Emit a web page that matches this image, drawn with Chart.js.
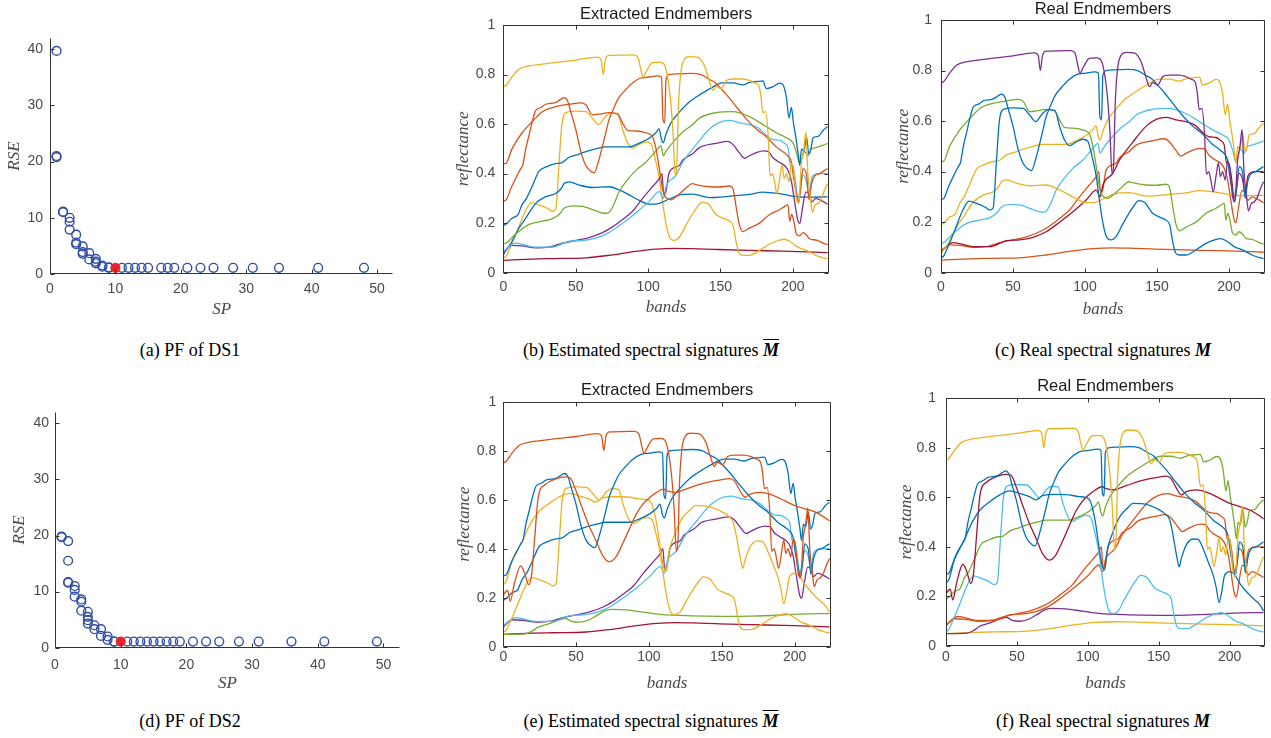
<!DOCTYPE html>
<html>
<head>
<meta charset="utf-8">
<script src="https://cdn.jsdelivr.net/npm/chart.js@4.4.0/dist/chart.umd.min.js"></script>
<style>
  html,body{margin:0;padding:0;background:#fff;}
  body{width:1271px;height:738px;position:relative;overflow:hidden;}
  canvas{position:absolute;}
  .cap{position:absolute;transform:translateX(-50%);white-space:nowrap;font-family:"Liberation Serif","Times New Roman",serif;font-size:18px;line-height:20px;color:#000;}
  .m{font-weight:bold;font-style:italic;}
  .ov{text-decoration:overline;}
</style>
</head>
<body>
<canvas id="pa"></canvas>
<canvas id="pb"></canvas>
<canvas id="pc"></canvas>
<canvas id="pd"></canvas>
<canvas id="pe"></canvas>
<canvas id="pf"></canvas>
<div class="cap" style="left:190px;top:340px">(a) PF of DS1</div>
<div class="cap" style="left:651px;top:340px">(b) Estimated spectral signatures <span class="m ov">M</span></div>
<div class="cap" style="left:1103px;top:340px">(c) Real spectral signatures <span class="m">M</span></div>
<div class="cap" style="left:190px;top:711px">(d) PF of DS2</div>
<div class="cap" style="left:651px;top:711px">(e) Estimated spectral signatures <span class="m ov">M</span></div>
<div class="cap" style="left:1103px;top:711px">(f) Real spectral signatures <span class="m">M</span></div>
<script>
// ---------------- data ----------------
const spTicks = [0, 10, 20, 30, 40, 50];
const rseTicks = [0, 10, 20, 30, 40];
const bandTicks = [0, 50, 100, 150, 200];
const reflTicks = [0, 0.2, 0.4, 0.6, 0.8, 1];

// Pareto front DS1
const ds1SP  = [1,1,1,2,2,3,3,3,4,4,4,5,5,5,6,6,7,7,7,8,8,9,9,11,12,13,14,15,17,18,19,21,23,25,28,31,35,41,48];
const ds1RSE = [39.7,21.0,20.8,11.1,11.0,10.0,9.3,7.9,7.0,5.6,5.3,4.9,3.9,3.6,3.7,2.6,2.7,2.2,1.9,1.5,1.3,1.2,1.1,
                1.1,1.1,1.1,1.1,1.1,1.1,1.1,1.1,1.1,1.1,1.1,1.1,1.1,1.1,1.1,1.1];
const ds1BestSP = [10];
const ds1BestRSE = [1.1];

// Pareto front DS2
const ds2SP  = [1,1,2,2,2,2,3,3,3,4,4,4,5,5,5,5,6,6,7,7,8,8,9,9,11,12,13,14,15,16,17,18,19,21,23,25,28,31,36,41,49];
const ds2RSE = [19.8,19.7,19.0,15.5,11.7,11.6,11.0,10.3,9.1,8.6,8.2,6.6,6.4,5.5,4.9,4.3,4.0,3.3,3.3,2.1,2.0,1.4,1.1,1.1,
                1.1,1.1,1.1,1.1,1.1,1.1,1.1,1.1,1.1,1.1,1.1,1.1,1.1,1.1,1.1,1.1,1.1];
const ds2BestSP = [10];
const ds2BestRSE = [1.1];

// spectral signatures: [band, reflectance]
const sigA = [[0,0.75],[2,0.757],[6,0.79],[11,0.822],[18,0.835],[27,0.842],[38,0.85],[50,0.858],[58,0.866],[65,0.87],[67.5,0.86],[69,0.8],[70.5,0.86],[73,0.877],[82,0.878],[90,0.879],[93,0.87],[95,0.82],[96.5,0.79],[99,0.815],[103,0.848],[108,0.85],[111,0.842],[113.5,0.79],[115.5,0.7],[117.3,0.56],[118.8,0.39],[119.8,0.42],[121,0.67],[122.5,0.8],[125,0.86],[128.5,0.872],[134,0.87],[139,0.835],[142.5,0.77],[144.8,0.736],[147,0.752],[150.5,0.743],[154,0.776],[158.5,0.782],[165.5,0.782],[170,0.776],[174,0.765],[176.5,0.755],[177.8,0.72],[179.4,0.645],[181.2,0.65],[183,0.55],[184.3,0.39],[186,0.4],[187.6,0.36],[189,0.32],[191.2,0.39],[192.6,0.435],[194,0.38],[195.5,0.4],[197.4,0.367],[199,0.44],[200.4,0.42],[202.5,0.3],[204,0.28],[206,0.446],[207.6,0.5],[209.1,0.567],[210.4,0.4],[212,0.31],[213.5,0.245],[215.5,0.274],[217.5,0.28],[219.8,0.3],[222,0.335],[224,0.36]];
const sigK = [[0,0.29],[2,0.294],[5,0.337],[8.5,0.38],[12,0.42],[13.5,0.435],[15.5,0.5],[18,0.56],[20,0.61],[22.4,0.655],[26,0.667],[29.3,0.68],[36,0.687],[39.7,0.7],[42,0.707],[44.3,0.695],[46.6,0.65],[50,0.58],[53.5,0.49],[57,0.433],[60.5,0.41],[62.8,0.404],[66,0.455],[70,0.545],[73,0.617],[76,0.66],[79.5,0.704],[84,0.735],[88,0.76],[94,0.784],[100.8,0.79],[106.6,0.795],[109.3,0.79],[110.3,0.62],[111.5,0.605],[112.4,0.78],[114.7,0.8],[121.6,0.803],[130,0.805],[136.5,0.8],[142.5,0.78],[146.5,0.767],[150,0.745],[154,0.72],[161,0.67],[168,0.62],[174.8,0.58],[181.5,0.55],[188.5,0.508],[193.5,0.487],[196.8,0.47],[199,0.446],[200.6,0.38],[202.5,0.32],[204,0.283],[205.3,0.33],[207,0.42],[209.5,0.395],[211.2,0.295],[213,0.36],[215,0.39],[218.5,0.4],[222,0.413],[224,0.42]];
const sigRise = [[0,0.19],[2,0.197],[6,0.22],[10,0.233],[13,0.275],[16,0.3],[20,0.35],[24.7,0.41],[29.3,0.426],[36,0.44],[40,0.443],[45.5,0.466],[52,0.478],[55,0.485],[64,0.5],[70.8,0.508],[80,0.508],[87,0.508],[94,0.523],[100.8,0.543],[105.5,0.566],[107.6,0.582],[109.2,0.54],[110.5,0.525],[112.4,0.56],[115.8,0.605],[121.6,0.648],[128.6,0.69],[133,0.708],[142.5,0.742],[151.5,0.766],[158.6,0.766],[165.5,0.758],[170,0.768],[176,0.772],[179.4,0.774],[181.7,0.743],[186,0.75],[191,0.765],[193,0.76],[195.5,0.71],[197.4,0.625],[199,0.667],[200.4,0.607],[202,0.55],[203.6,0.485],[204.8,0.433],[206,0.5],[207.6,0.49],[209.5,0.548],[211,0.48],[212.5,0.5],[214,0.545],[217.5,0.55],[221,0.575],[224,0.59]];
const sigStep = [[0,0.06],[1.6,0.064],[5,0.105],[9.7,0.17],[15.5,0.252],[19.5,0.283],[24.7,0.274],[30.5,0.26],[34,0.248],[36.2,0.256],[38.5,0.44],[40.5,0.6],[43.7,0.647],[50,0.652],[57,0.65],[61.6,0.624],[65.8,0.598],[70.5,0.63],[74.5,0.645],[79,0.642],[82.4,0.578],[85.8,0.525],[89.3,0.503],[94,0.518],[98.5,0.528],[102,0.52],[104.5,0.47],[107.8,0.38],[110,0.288],[112,0.21],[114.7,0.145],[118,0.13],[121.6,0.143],[126,0.19],[130.5,0.235],[134,0.265],[137.2,0.285],[141.5,0.278],[147,0.235],[151.8,0.22],[156.4,0.208],[158.8,0.19],[161,0.12],[163,0.077],[165.5,0.07],[170,0.07],[177,0.09],[184,0.116],[190,0.13],[194.4,0.135],[197.8,0.127],[203.6,0.103],[209.4,0.09],[216,0.07],[220,0.062],[224,0.056]];
const sigRed = [[0,0.086],[8.5,0.119],[13,0.115],[22.4,0.103],[34,0.103],[45.5,0.127],[54.7,0.13],[64,0.14],[73,0.162],[82.4,0.2],[91.6,0.241],[100.8,0.288],[107.8,0.327],[110.5,0.3],[112.4,0.347],[119.3,0.393],[124,0.446],[133,0.515],[142.5,0.58],[149.4,0.607],[156.3,0.615],[163,0.605],[170,0.598],[176,0.585],[181.7,0.555],[186,0.538],[191,0.535],[194.4,0.522],[196.7,0.505],[198.3,0.433],[199.7,0.435],[201.3,0.393],[203.6,0.3],[205,0.33],[207,0.393],[209.4,0.37],[211.2,0.314],[213,0.38],[215,0.395],[218.6,0.4],[224,0.4]];
const sigOrange = [[0,0.08],[1.6,0.09],[6,0.11],[13,0.108],[22.4,0.1],[31.6,0.103],[40.8,0.119],[50,0.13],[59.3,0.142],[68.5,0.162],[75.5,0.185],[82.4,0.215],[89.3,0.248],[96.2,0.3],[103,0.347],[107.8,0.38],[109.6,0.4],[110.8,0.314],[112.4,0.33],[114.7,0.406],[121.6,0.433],[124,0.455],[130.8,0.48],[135.5,0.505],[147,0.522],[155,0.53],[158.6,0.518],[163,0.485],[166.7,0.462],[170,0.472],[174.8,0.485],[179.6,0.492],[183,0.49],[186,0.466],[190,0.448],[194.4,0.432],[196.7,0.413],[199,0.37],[201.3,0.285],[203.6,0.208],[204.8,0.198],[206.6,0.258],[209,0.325],[211,0.322],[213,0.286],[216,0.3],[220,0.29],[224,0.277]];
const sigFlat = [[0,0.05],[20,0.055],[34,0.057],[57,0.06],[73,0.07],[91.6,0.086],[105.5,0.095],[119,0.098],[130,0.097],[146,0.094],[169.5,0.09],[193,0.087],[210,0.084],[224,0.081]];
const sigG = [[0,0.44],[1.6,0.44],[6,0.5],[13,0.565],[20,0.61],[27,0.65],[36,0.67],[45.5,0.68],[53.5,0.686],[57,0.678],[61.6,0.637],[66,0.64],[73,0.646],[79,0.64],[82.4,0.604],[85.8,0.575],[91.6,0.572],[98.5,0.565],[103,0.55],[105.5,0.5],[107.8,0.42],[110,0.34],[112.4,0.303],[115.8,0.294],[119.3,0.307],[124,0.33],[130.8,0.36],[133,0.356],[142.5,0.347],[149.4,0.346],[156.3,0.35],[158.6,0.34],[161,0.26],[163,0.195],[165.5,0.166],[170,0.18],[177,0.2],[184,0.235],[191,0.255],[194.4,0.268],[196.7,0.274],[197.8,0.208],[199.2,0.235],[200.6,0.21],[202.5,0.156],[204.8,0.149],[207,0.162],[209,0.155],[211.7,0.136],[216,0.132],[221,0.119],[224,0.113]];
const sigLB = [[0,0.118],[1.6,0.119],[8.5,0.156],[17.8,0.195],[27,0.208],[34,0.218],[38.5,0.235],[42,0.26],[47.8,0.27],[54.7,0.268],[61.6,0.255],[68.5,0.241],[72,0.24],[75.5,0.265],[80,0.327],[84.7,0.367],[91.6,0.413],[98.5,0.446],[105.5,0.492],[109,0.512],[110.5,0.472],[112.4,0.49],[117,0.525],[124,0.568],[130.8,0.598],[135.5,0.624],[147,0.646],[158.6,0.65],[170,0.63],[179.4,0.598],[188.6,0.565],[195.5,0.545],[200,0.525],[202.5,0.485],[204.8,0.44],[206.6,0.466],[208,0.49],[210.5,0.472],[213,0.5],[216,0.505],[221,0.515],[224,0.522]];
const sigLow = [[0,0.07],[1.6,0.09],[5,0.116],[11,0.182],[15.5,0.22],[22.4,0.28],[29.3,0.307],[36.2,0.32],[40,0.34],[42,0.36],[45.5,0.367],[52.4,0.354],[61.6,0.344],[73,0.347],[80,0.334],[87,0.314],[94,0.292],[100.8,0.277],[105.5,0.277],[110,0.285],[114.7,0.298],[124,0.316],[130.8,0.317],[142.5,0.303],[150,0.305],[158.6,0.31],[170,0.316],[179.4,0.325],[186,0.322],[193,0.317],[202.5,0.307],[211.7,0.305],[224,0.306]];
const sigN1 = [[0,0.21],[1.9,0.226],[3,0.23],[4.7,0.186],[7.7,0.26],[11.9,0.33],[14.7,0.3],[17.4,0.253],[19.3,0.287],[21.6,0.448],[24,0.61],[28.6,0.661],[35.6,0.684],[42.6,0.693],[46,0.688],[49.5,0.643],[54,0.569],[58.8,0.495],[63.5,0.435],[68,0.374],[72.8,0.347],[77.4,0.367],[82,0.421],[86.7,0.482],[91.4,0.542],[96,0.583],[100.7,0.61],[105.3,0.63],[110,0.643],[113.5,0.634],[119.3,0.63],[122.4,0.637],[128.6,0.65],[136.5,0.666],[148.3,0.68],[155.4,0.686],[158.9,0.675],[162.5,0.637],[166,0.61],[169.5,0.623],[176.6,0.63],[186,0.616],[193.1,0.596],[200.2,0.576],[207.2,0.563],[214.3,0.549],[220,0.53],[224,0.513]];
const sigN2 = [[0,0.255],[1.9,0.266],[6.5,0.36],[12.3,0.421],[18,0.495],[24,0.549],[31,0.583],[38,0.61],[45,0.626],[52,0.616],[58.8,0.603],[63.5,0.59],[68,0.607],[77.4,0.612],[86.7,0.61],[93.7,0.603],[98.4,0.6],[101.9,0.583],[105.3,0.502],[107.7,0.408],[110,0.327],[111.9,0.307],[113.5,0.381],[117,0.448],[122.4,0.52],[128.6,0.56],[131.8,0.576],[141.3,0.572],[148.3,0.556],[155.4,0.529],[157.8,0.509],[159.7,0.462],[161.3,0.408],[163,0.354],[164.4,0.32],[166,0.354],[169.5,0.408],[174.3,0.432],[177.8,0.43],[181.3,0.394],[184.9,0.34],[188.4,0.287],[190.7,0.233],[192.6,0.176],[194.3,0.213],[196.6,0.287],[200.2,0.3],[203.7,0.287],[207.2,0.253],[212,0.219],[216.7,0.192],[221.4,0.166],[224,0.141]];
const sigN3 = [[0,0.05],[14.7,0.052],[19.3,0.062],[24,0.08],[31,0.093],[36.7,0.106],[42.6,0.116],[47.2,0.102],[52,0.1],[58.8,0.109],[63.5,0.125],[70.5,0.148],[75,0.152],[84.4,0.15],[96,0.141],[107.7,0.132],[128.6,0.126],[150,0.124],[170,0.125],[193,0.13],[207,0.134],[224,0.135]];

// ---------------- styling ----------------
const C = {blue:'#0072BD', orange:'#D95319', yellow:'#EDB120', purple:'#7E2F8E', green:'#77AC30', lblue:'#4DBEEE', dred:'#A2142F'};
const SANS = '"Liberation Sans", Arial, Helvetica, sans-serif';
const SERIF = '"Liberation Serif", "Times New Roman", serif';
const TICK_FS = 14, TICK_LH = TICK_FS * 1.2;
const AX_FS = 17, AX_LH = AX_FS * 1.2;
const TI_FS = 16.5, TI_LH = TI_FS * 1.2;

const matlabAxes = {
  id: 'matlabAxes',
  afterDraw(chart, args, o) {
    const {ctx, chartArea: a} = chart;
    const xs = chart.scales.x, ys = chart.scales.y;
    const L = Math.round(a.left) + 0.5, R = Math.round(a.right) - 0.5;
    const T = Math.round(a.top) + 0.5, B = Math.round(a.bottom) - 0.5;
    ctx.save();
    ctx.strokeStyle = o.color;
    ctx.lineWidth = 1;
    ctx.beginPath();
    ctx.moveTo(L, T); ctx.lineTo(L, B); ctx.lineTo(R, B);
    if (o.box) { ctx.lineTo(R, T); ctx.lineTo(L, T); }
    ctx.stroke();
    const tl = o.tickLen;
    ctx.beginPath();
    xs.ticks.forEach(t => {
      const px = Math.round(xs.getPixelForValue(t.value)) + 0.5;
      ctx.moveTo(px, B); ctx.lineTo(px, B - tl);
      if (o.box) { ctx.moveTo(px, T); ctx.lineTo(px, T + tl); }
    });
    ys.ticks.forEach(t => {
      const py = Math.round(ys.getPixelForValue(t.value)) + 0.5;
      ctx.moveTo(L, py); ctx.lineTo(L + tl, py);
      if (o.box) { ctx.moveTo(R, py); ctx.lineTo(R - tl, py); }
    });
    ctx.stroke();
    ctx.restore();
  }
};

function makeChart(id, g, cfg) {
  const cv = document.getElementById(id);
  cv.width = g.w; cv.height = g.h;
  cv.style.left = g.left + 'px'; cv.style.top = g.top + 'px';
  cv.style.width = g.w + 'px'; cv.style.height = g.h + 'px';
  const padL = 2;
  const yW = g.l - g.left - padL;
  const xH = g.top + g.h - g.b;
  const padR = g.left + g.w - g.r;
  let layoutTop = 0, titleOpts = {display: false};
  if (cfg.title) {
    const pt = g.titleY - g.top - TI_LH / 2;
    const pb = (g.t - g.top) - pt - TI_LH;
    titleOpts = {display: true, text: cfg.title, fullSize: false, padding: {top: pt, bottom: pb},
                 font: {family: SANS, size: TI_FS, weight: 'normal'}, color: '#1a1a1a'};
  } else {
    layoutTop = g.t - g.top;
  }
  return new Chart(cv, {
    type: cfg.type,
    data: {datasets: cfg.datasets},
    plugins: [matlabAxes],
    options: {
      responsive: false, animation: false, devicePixelRatio: 1,
      layout: {padding: {left: padL, right: padR, top: layoutTop, bottom: 0}},
      plugins: {
        legend: {display: false}, tooltip: {enabled: false},
        title: titleOpts,
        matlabAxes: {color: '#333333', box: cfg.box, tickLen: 4}
      },
      scales: {
        x: {
          type: 'linear', min: cfg.xmin, max: cfg.xmax,
          afterBuildTicks: s => { s.ticks = cfg.xticks.map(v => ({value: v})); },
          afterFit: s => { s.height = xH; },
          grid: {display: false, drawTicks: false}, border: {display: false},
          ticks: {padding: g.xLabC - g.b - TICK_LH / 2, autoSkip: false, maxRotation: 0,
                  font: {family: SANS, size: TICK_FS}, color: '#4a4a4a', callback: v => String(v)},
          title: {display: true, text: cfg.xlab, color: '#4a4a4a',
                  font: {family: SERIF, size: AX_FS, style: 'italic'},
                  padding: {top: 0, bottom: g.top + g.h - g.xTitleY - AX_LH / 2}}
        },
        y: {
          type: 'linear', min: cfg.ymin, max: cfg.ymax,
          afterBuildTicks: s => { s.ticks = cfg.yticks.map(v => ({value: v})); },
          afterFit: s => { s.width = yW; },
          grid: {display: false, drawTicks: false}, border: {display: false},
          ticks: {padding: g.yGap, autoSkip: false,
                  font: {family: SANS, size: TICK_FS}, color: '#4a4a4a', callback: v => String(v)},
          title: {display: true, text: cfg.ylab, color: '#4a4a4a',
                  font: {family: SERIF, size: AX_FS, style: 'italic'},
                  padding: {top: g.yTitleX - g.left - padL - AX_LH / 2, bottom: 0}}
        }
      }
    }
  });
}

function toXY(xs, ys) { return xs.map((x, i) => ({x: x, y: ys[i]})); }
function paretoSets(sp, rse, bsp, brse) {
  return [
    {data: toXY(bsp, brse), order: 0, pointRadius: 4.6, pointBackgroundColor: '#E8242B', pointBorderColor: '#E8242B', pointBorderWidth: 1},
    {data: toXY(sp, rse), order: 1, pointRadius: 4.4, pointBackgroundColor: 'rgba(0,0,0,0)', pointBorderColor: '#2F4FA6', pointBorderWidth: 1.4}
  ];
}
function lineSets(list) {
  return list.map(([sig, col]) => ({
    data: sig.map(p => ({x: p[0], y: p[1]})),
    borderColor: col, borderWidth: 1.3, pointRadius: 0, fill: false,
    cubicInterpolationMode: 'monotone'
  }));
}

const panelB = [[sigA, C.yellow], [sigG, C.orange], [sigK, C.orange], [sigRise, C.blue], [sigLB, C.green], [sigRed, C.lblue], [sigOrange, C.purple], [sigLow, C.blue], [sigStep, C.yellow], [sigFlat, C.dred]];
const panelC = [[sigA, C.purple], [sigK, C.blue], [sigStep, C.blue], [sigG, C.green], [sigRise, C.yellow], [sigLow, C.yellow], [sigLB, C.lblue], [sigRed, C.dred], [sigOrange, C.orange], [sigFlat, C.orange]];
const panelE = [[sigA, C.orange], [sigN1, C.orange], [sigK, C.blue], [sigRise, C.blue], [sigN2, C.yellow], [sigStep, C.yellow], [sigRed, C.lblue], [sigOrange, C.purple], [sigN3, C.green], [sigFlat, C.dred]];
const panelF = [[sigA, C.yellow], [sigK, C.blue], [sigN2, C.blue], [sigN1, C.dred], [sigRise, C.green], [sigStep, C.lblue], [sigRed, C.orange], [sigOrange, C.orange], [sigN3, C.purple], [sigFlat, C.yellow]];

const specCfg = (title, list) => ({type: 'line', box: true, title: title, datasets: lineSets(list),
  xmin: 0, xmax: 225, ymin: 0, ymax: 1, xticks: bandTicks, yticks: reflTicks, xlab: 'bands', ylab: 'reflectance'});
const pfCfg = (sets) => ({type: 'scatter', box: false, title: null, datasets: sets,
  xmin: 0, xmax: 52.5, ymin: 0, ymax: 42, xticks: spTicks, yticks: rseTicks, xlab: 'SP', ylab: 'RSE'});

makeChart('pa', {left: 0, top: 0, w: 410, h: 322, l: 50, t: 38, r: 393.4, b: 274, yTitleX: 15, xTitleY: 310, xLabC: 289, yGap: 7},
  pfCfg(paretoSets(ds1SP, ds1RSE, ds1BestSP, ds1BestRSE)));
makeChart('pd', {left: 0, top: 370, w: 420, h: 330, l: 55, t: 412.1, r: 399.9, b: 647.7, yTitleX: 20, xTitleY: 683.3, xLabC: 665.3, yGap: 6},
  pfCfg(paretoSets(ds2SP, ds2RSE, ds2BestSP, ds2BestRSE)));
makeChart('pb', {left: 440, top: 0, w: 395, h: 322, l: 503.3, t: 25, r: 829, b: 272.7, titleY: 14, yTitleX: 464, xTitleY: 308, xLabC: 287, yGap: 8},
  specCfg('Extracted Endmembers', panelB));
makeChart('pc', {left: 880, top: 0, w: 391, h: 322, l: 941, t: 20, r: 1265, b: 272.7, titleY: 9, yTitleX: 904, xTitleY: 310, xLabC: 287.5, yGap: 9},
  specCfg('Real Endmembers', panelC));
makeChart('pe', {left: 440, top: 370, w: 395, h: 330, l: 503.3, t: 401.7, r: 831, b: 646.7, titleY: 390, yTitleX: 465, xTitleY: 683.3, xLabC: 657.5, yGap: 7},
  specCfg('Extracted Endmembers', panelE));
makeChart('pf', {left: 880, top: 370, w: 391, h: 330, l: 946, t: 398.3, r: 1265, b: 646, titleY: 386.7, yTitleX: 906.7, xTitleY: 683.3, xLabC: 656.7, yGap: 10},
  specCfg('Real Endmembers', panelF));
</script>
</body>
</html>
